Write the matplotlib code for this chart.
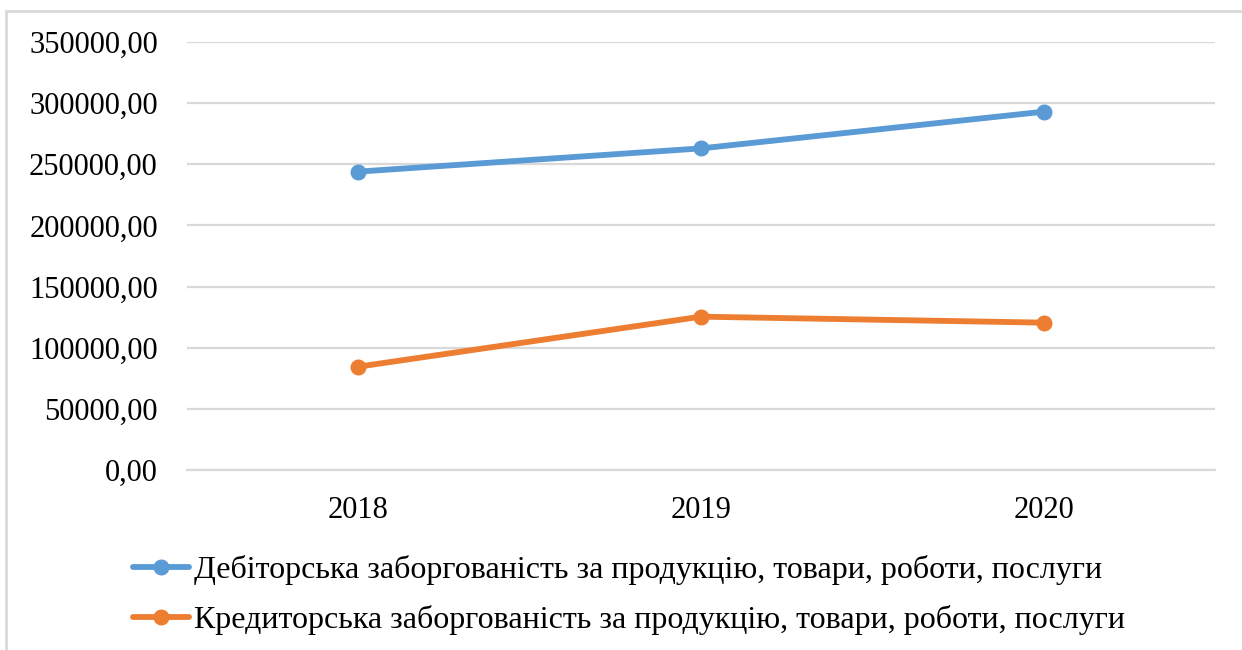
import matplotlib
matplotlib.use("Agg")
import matplotlib.pyplot as plt
from matplotlib.patches import Rectangle

years = ["2018", "2019", "2020"]
debit = [244000, 263000, 293000]
credit = [84500, 125400, 120500]
labels = ["Дебіторська заборгованість за продукцію, товари, роботи, послуги",
          "Кредиторська заборгованість за продукцію, товари, роботи, послуги"]
yticks = [0, 50000, 100000, 150000, 200000, 250000, 300000, 350000]

plt.rcParams['font.family'] = ['Liberation Serif', 'DejaVu Serif']

W, H = 1242, 650
fig = plt.figure(figsize=(W/100, H/100), dpi=100)
ax = fig.add_axes([187/W, 1-470/H, (1215-187)/W, (470-42)/H])

x = range(len(years))
ax.plot(x, debit, color='#5b9bd5', lw=4.2, marker='o', ms=10.5, label=labels[0], solid_capstyle='round')
ax.plot(x, credit, color='#ed7d31', lw=4.2, marker='o', ms=10.5, label=labels[1], solid_capstyle='round')

ax.set_xlim(-0.5, 2.5)
ax.set_ylim(0, 350000)
ax.set_yticks(yticks)
ax.set_yticklabels([f"{v},00" for v in yticks])
ax.set_xticks(list(x))
ax.set_xticklabels(years)
ax.grid(axis='y', color='#d9d9d9', lw=1.6)
ax.set_axisbelow(True)
for s in ['top', 'right', 'left']:
    ax.spines[s].set_visible(False)
ax.spines['bottom'].set_color('#d9d9d9')
ax.spines['bottom'].set_linewidth(1.6)
ax.tick_params(axis='both', length=0, labelsize=22, colors='#000000')
ax.tick_params(axis='y', pad=21)
ax.tick_params(axis='x', pad=19)

leg = fig.legend(loc='upper left', bbox_to_anchor=(133/W, 1-555/H), frameon=False,
                 fontsize=23, handlelength=1.75, handletextpad=0.15, labelspacing=0.62,
                 borderaxespad=0, borderpad=0)

fig.patches.append(Rectangle((6/W, -0.1), 1.2, 1-11/H+0.1, transform=fig.transFigure,
                             fill=False, edgecolor='#d9d9d9', lw=2))

fig.savefig("out.png", dpi=100)
